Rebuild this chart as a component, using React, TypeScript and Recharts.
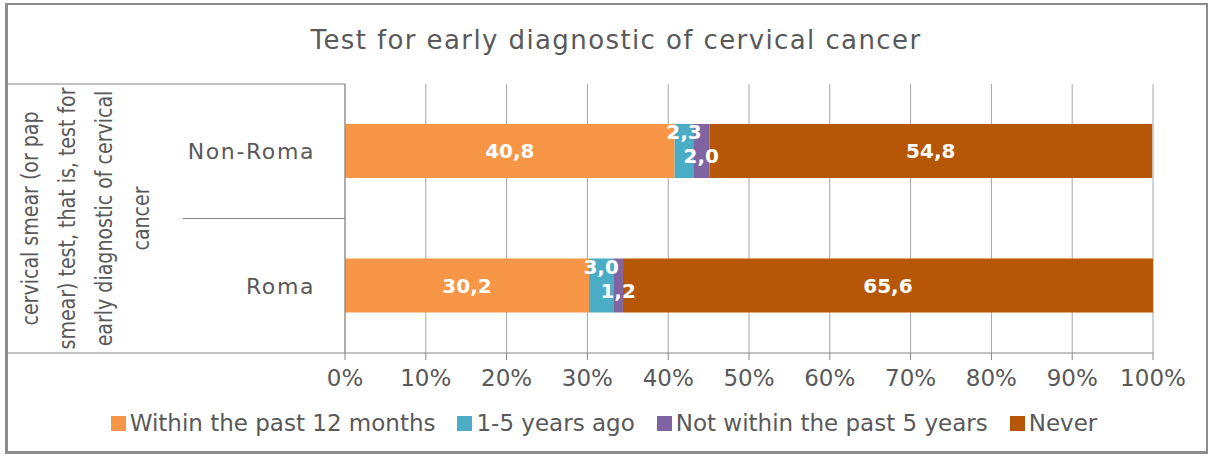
import React from 'react';
import { BarChart, Bar, XAxis, YAxis, CartesianGrid, LabelList, Customized } from 'recharts';

// categories and series values (percent)
const groups = ['Non-Roma', 'Roma'];
const within12Months = [40.8, 30.2];
const oneToFiveYears = [2.3, 3.0];
const notWithin5Years = [2.0, 1.2];
const never = [54.8, 65.6];
const xTicks = [0, 10, 20, 30, 40, 50, 60, 70, 80, 90, 100];
const outerLabel = ['cervical smear (or pap', 'smear) test, that is, test for', 'early diagnostic of cervical', 'cancer'];

const series = [
  { key: 'within', name: 'Within the past 12 months', color: '#F79646', values: within12Months, dy: 0 },
  { key: 'oneFive', name: '1-5 years ago', color: '#4BACC6', values: oneToFiveYears, dy: -19 },
  { key: 'notWithin', name: 'Not within the past 5 years', color: '#8064A2', values: notWithin5Years, dy: 5 },
  { key: 'never', name: 'Never', color: '#B65708', values: never, dy: 0 },
];

const data = groups.map((g, i) => {
  const row: Record<string, string | number> = { name: g };
  series.forEach((s) => { row[s.key] = s.values[i]; });
  return row;
});

const FONT = '"DejaVu Sans", sans-serif';
const TEXT = '#595959';
const W = 1208;
const H = 456;
const M = { top: 84, right: 55, bottom: 0, left: 0 };
const Y_W = 345;
const X_H = 103;

const makeLabel = (dy: number) => (props: any) => {
  const { x, y, width, height, value } = props;
  return (
    <text x={x + width / 2} y={y + height / 2 + dy} textAnchor="middle" dominantBaseline="central"
      fill="#fff" fontSize={20} fontWeight={700} fontFamily={FONT}>
      {Number(value).toFixed(1).replace('.', ',')}
    </text>
  );
};

// left frame of the multi-level category axis
const Frame = () => {
  const top = M.top;
  const bottom = H - M.bottom - X_H;
  const left = M.left + Y_W;
  const mid = (top + bottom) / 2;
  return (
    <g>
      <line x1={8} x2={left} y1={top} y2={top} stroke="#868686" />
      <line x1={8} x2={left} y1={bottom} y2={bottom} stroke="#868686" />
      <line x1={183} x2={left} y1={mid} y2={mid} stroke="#868686" />
      <text transform={`translate(85, ${mid}) rotate(-90) scale(1, 1.25)`} textAnchor="middle"
        fill={TEXT} fontSize={19} fontFamily={FONT}>
        {outerLabel.map((l, i) => (
          <tspan key={i} x={0} y={(i - 1.5) * 29.6 + 7}>{l}</tspan>
        ))}
      </text>
    </g>
  );
};

export default function App() {
  return (
    <div style={{ position: 'absolute', left: 0, top: 0, width: W, height: H, background: '#fff', fontFamily: FONT }}>
      <div style={{ position: 'absolute', left: 5, top: 3, width: 1198, height: 446, borderTop: '2px solid #8c8c8c', borderLeft: '3px solid #8c8c8c', borderRight: '3px solid #8c8c8c', borderBottom: '3px solid #8c8c8c' }} />
      <div style={{ position: 'absolute', left: 12, top: 25, width: W, textAlign: 'center', fontSize: 26, letterSpacing: 1.4, color: TEXT }}>
        Test for early diagnostic of cervical cancer
      </div>
      <div style={{ position: 'absolute', left: 0, top: 0, width: W, height: H }}>
        <BarChart width={W} height={H} data={data} layout="vertical" margin={M}>
          <CartesianGrid horizontal={false} stroke="#a6a6a6" />
          <XAxis type="number" domain={[0, 100]} ticks={xTicks} tickFormatter={(v: number) => `${v}%`}
            height={X_H} tickSize={7} tickMargin={10} stroke="#868686"
            tick={{ fill: TEXT, fontSize: 23, fontFamily: FONT }} interval={0} />
          <YAxis type="category" dataKey="name" width={Y_W} tickLine={false} stroke="#868686" tickMargin={24}
            tick={{ fill: TEXT, fontSize: 22, fontFamily: FONT, letterSpacing: 1.6 }} />
          {series.map((s) => (
            <Bar key={s.key} dataKey={s.key} name={s.name} stackId="a" fill={s.color} barSize={54} isAnimationActive={false}>
              <LabelList dataKey={s.key} content={makeLabel(s.dy)} />
            </Bar>
          ))}
          <Customized component={<Frame />} />
        </BarChart>
      </div>
      <div style={{ position: 'absolute', left: 0, top: 410, width: W, display: 'flex', justifyContent: 'center', gap: 22, fontSize: 23, color: TEXT }}>
        {series.map((s) => (
          <div key={s.key} style={{ display: 'flex', alignItems: 'center' }}>
            <span style={{ display: 'inline-block', width: 15, height: 15, background: s.color, marginRight: 4 }} />
            <span>{s.name}</span>
          </div>
        ))}
      </div>
    </div>
  );
}
